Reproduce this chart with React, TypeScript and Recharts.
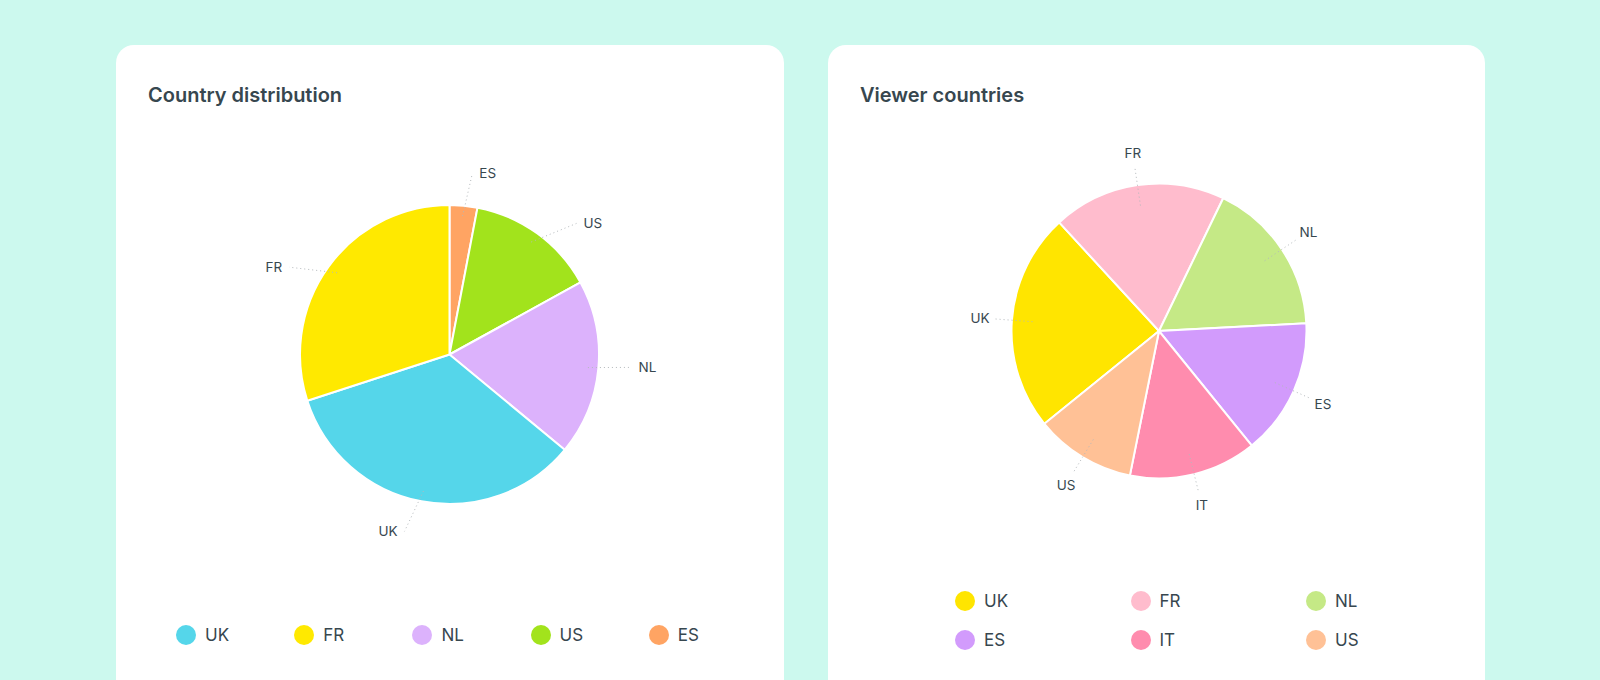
import { PieChart, Pie, Legend } from 'recharts';

// ─── Data ─────────────────────────────────────────────────────────────────────

// Country distribution, clockwise from 12 o'clock
const DIST_NAMES = ['ES', 'US', 'NL', 'UK', 'FR'];
const DIST_VALUES = [3, 14, 19, 34, 30];
const DIST_COLORS = ['#ffa463', '#a2e31c', '#dcb2fc', '#55d6ea', '#ffe900'];
const DIST_LEGEND_ORDER = ['UK', 'FR', 'NL', 'US', 'ES'];

// Viewer countries, clockwise
const VIEWER_NAMES = ['UK', 'FR', 'NL', 'ES', 'IT', 'US'];
const VIEWER_VALUES = [24, 19, 17, 15, 14, 11];
const VIEWER_COLORS = ['#ffe500', '#ffbccd', '#c5e986', '#d29bfc', '#ff8cae', '#ffc196'];

const distData = DIST_NAMES.map((name, i) => ({ name, value: DIST_VALUES[i], fill: DIST_COLORS[i] }));
const viewerData = VIEWER_NAMES.map((name, i) => ({ name, value: VIEWER_VALUES[i], fill: VIEWER_COLORS[i] }));

const FONT = 'Inter, "Noto Sans", sans-serif';
const TEXT = '#37474f';
const RADIAN = Math.PI / 180;

// ─── Labels ───────────────────────────────────────────────────────────────────

// squash: < 1 pulls the label end toward the horizontal
function makeLabel(innerFactor: number, lineOut: number, mode: 'side' | 'radial', squash: number) {
  return (props: any) => {
    const { cx, cy, midAngle, outerRadius, name } = props;
    const cos = Math.cos(-midAngle * RADIAN);
    const sin = Math.sin(-midAngle * RADIAN);
    const a = Math.atan2(sin * squash, cos);
    const oc = Math.cos(a);
    const os = Math.sin(a);
    const x1 = cx + outerRadius * innerFactor * cos;
    const y1 = cy + outerRadius * innerFactor * sin;
    const x2 = cx + (outerRadius + lineOut) * oc;
    const y2 = cy + (outerRadius + lineOut) * os;
    let tx = x2;
    let ty = y2;
    let anchor: 'start' | 'end' | 'middle' = 'middle';
    if (mode === 'side') {
      anchor = oc >= 0 ? 'start' : 'end';
      tx = x2 + (oc >= 0 ? 7 : -7);
    } else {
      tx = cx + (outerRadius + lineOut + 14) * oc;
      ty = cy + (outerRadius + lineOut + 14) * os;
    }
    return (
      <g>
        <path
          d={`M${x1},${y1}L${x2},${y2}`}
          stroke="#b4b9bc"
          strokeWidth={1}
          strokeDasharray="1 3"
          fill="none"
        />
        <text
          x={tx}
          y={ty}
          textAnchor={anchor}
          dominantBaseline="central"
          fill={TEXT}
          fontSize={13.5}
          fontFamily={FONT}
        >
          {name}
        </text>
      </g>
    );
  };
}

// ─── Legend ───────────────────────────────────────────────────────────────────

function makeLegend(order: string[], itemWidth: number) {
  return (props: any) => {
    const items = [...(props.payload ?? [])];
    items.sort((a, b) => order.indexOf(a.value) - order.indexOf(b.value));
    return (
      <div style={{ display: 'flex', flexWrap: 'wrap' }}>
        {items.map((it) => (
          <div
            key={it.value}
            style={{ width: itemWidth, height: 39, display: 'flex', alignItems: 'center' }}
          >
            <span
              style={{
                width: 20,
                height: 20,
                borderRadius: '50%',
                background: it.color,
                marginRight: 9,
                flexShrink: 0,
              }}
            />
            <span style={{ fontSize: 17, color: TEXT, fontFamily: FONT }}>{it.value}</span>
          </div>
        ))}
      </div>
    );
  };
}

// ─── Card ─────────────────────────────────────────────────────────────────────

function Card({ left, width, title, children }: { left: number; width: number; title: string; children: any }) {
  return (
    <div
      style={{
        position: 'absolute',
        left,
        top: 45,
        width,
        height: 680,
        background: '#ffffff',
        borderRadius: 18,
      }}
    >
      {children}
      <div
        style={{
          position: 'absolute',
          left: 32,
          top: 38,
          fontFamily: FONT,
          fontSize: 20,
          fontWeight: 600,
          color: TEXT,
          whiteSpace: 'nowrap',
        }}
      >
        {title}
      </div>
    </div>
  );
}

// ─── Main ─────────────────────────────────────────────────────────────────────

export default function App() {
  return (
    <div
      style={{
        position: 'absolute',
        left: 0,
        top: 0,
        width: 1600,
        height: 680,
        overflow: 'hidden',
        background: '#ccf9ee',
      }}
    >
      <Card left={116} width={668} title="Country distribution">
        <PieChart width={668} height={635} margin={{ top: 0, right: 0, bottom: 0, left: 0 }}>
          <Pie
            data={distData}
            dataKey="value"
            nameKey="name"
            cx={333.5}
            cy={309.5}
            outerRadius={149.5}
            startAngle={90}
            endAngle={-270}
            stroke="#ffffff"
            strokeWidth={2}
            label={makeLabel(0.93, 33, 'side', 0.75)}
            labelLine={false}
            isAnimationActive={false}
          />
          <Legend
            content={makeLegend(DIST_LEGEND_ORDER, 118.2)}
            wrapperStyle={{ position: 'absolute', left: 60, top: 570, width: 600 }}
          />
        </PieChart>
      </Card>

      <Card left={828} width={657} title="Viewer countries">
        <PieChart width={657} height={635} margin={{ top: 0, right: 0, bottom: 0, left: 0 }}>
          <Pie
            data={viewerData}
            dataKey="value"
            nameKey="name"
            cx={331}
            cy={286}
            outerRadius={147.5}
            startAngle={219}
            endAngle={-141}
            stroke="#ffffff"
            strokeWidth={2}
            label={makeLabel(0.86, 18, 'radial', 1)}
            labelLine={false}
            isAnimationActive={false}
          />
          <Legend
            content={makeLegend(VIEWER_NAMES, 175.5)}
            wrapperStyle={{ position: 'absolute', left: 127, top: 536, width: 530 }}
          />
        </PieChart>
      </Card>
    </div>
  );
}
